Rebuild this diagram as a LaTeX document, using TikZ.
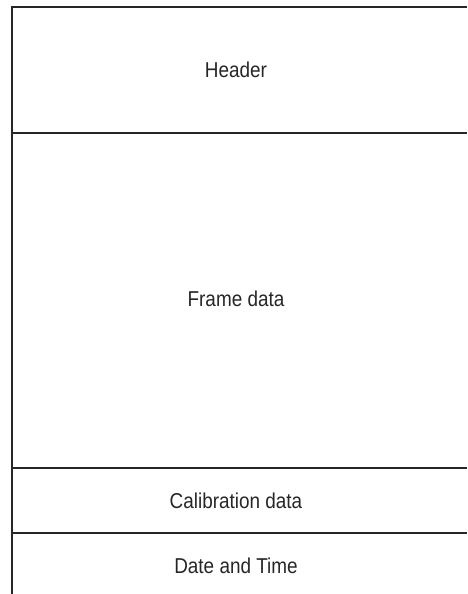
\documentclass[tikz,border=0pt]{standalone}
\usepackage{fontspec}
\setmainfont[FakeStretch=0.88]{Liberation Sans}
\begin{document}
\begin{tikzpicture}[x=1pt,y=1pt]
  \useasboundingbox (0,0) rectangle (467,594);
  \tikzset{field/.style={font=\fontsize{21.5}{24}\selectfont, text=black!85}}
  \draw [line width=2pt, black!85] (467,587) -- (11.5,587) -- (11.5,0);
  \draw [line width=2pt, black!85] (11.5,461) -- (467,461);
  \draw [line width=2pt, black!85] (11.5,126) -- (467,126);
  \draw [line width=2pt, black!85] (11.5,61) -- (467,61);
  \node (header) at (236,524) [field] {Header};
  \node (frame) at (236,295) [field] {Frame data};
  \node (calib) at (236,93) [field] {Calibration data};
  \node (datetime) at (236,28) [field] {Date and Time};
\end{tikzpicture}
\end{document}
